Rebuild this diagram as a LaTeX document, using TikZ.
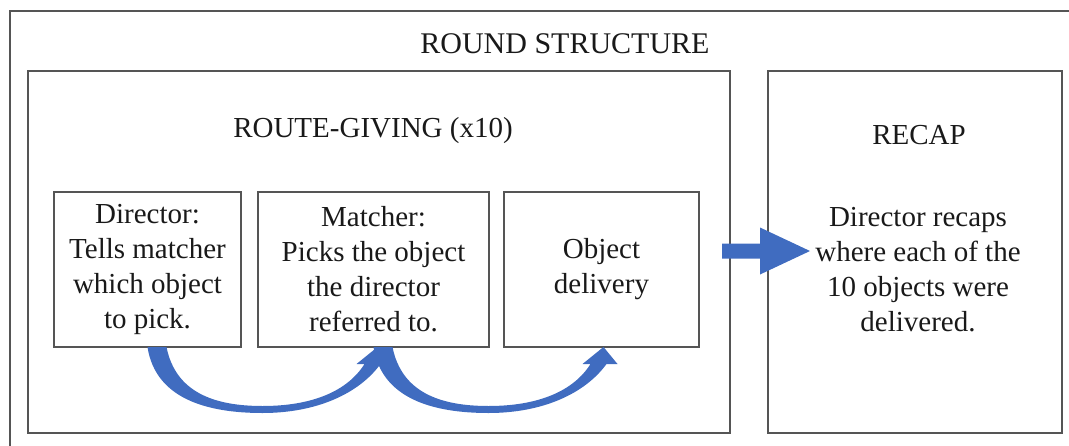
\documentclass[tikz,border=0pt]{standalone}
\usepackage{fontspec}
\setmainfont{Liberation Serif}
\usetikzlibrary{calc}

\definecolor{framegray}{RGB}{85,85,85}
\definecolor{textdark}{RGB}{25,25,25}
\definecolor{arrowblue}{RGB}{64,108,192}

\tikzset{
  frame/.style={draw=framegray, line width=2pt},
  boxnode/.style={frame, inner sep=0pt, outer sep=0pt, align=center,
    text=textdark, font=\fontsize{29}{35}\selectfont},
  label/.style={inner sep=0pt, text=textdark, align=center,
    font=\fontsize{29}{35}\selectfont},
}

% curved "up" arrow below two neighbouring boxes: tail at #1.south, head under #2
\newcommand{\bendarrow}[2]{%
  \fill[arrowblue, shift={(#1.south)}]
    (0,0) .. controls (8,52) and (60,66) .. (115,66)
          .. controls (170,66) and (212,46) .. (233,17)
    -- (244,17) -- (230,0) -- (209,17) -- (217,17)
          .. controls (200,44) and (165,59) .. (115,59)
          .. controls (66,59) and (28,45) .. (19,0)
    -- cycle;
}

\begin{document}
\begin{tikzpicture}[x=1pt, y=-1pt]
  \useasboundingbox (0,0) rectangle (1069,445);

  % outer frame, running off the right and bottom edges
  \draw[framegray, line width=2.4pt] (10,470) -- (10,11) -- (1100,11);

  \node[label, font=\fontsize{30}{35}\selectfont] (title) at (565,44) {ROUND STRUCTURE};

  % the two phases
  \node[boxnode, minimum width=702, minimum height=362] (route) at (379,252) {};
  \node[boxnode, minimum width=294, minimum height=362] (recap) at (915,252) {};

  \node[label] (routelabel) at (373,131) {ROUTE-GIVING (x10)};
  \node[label] (recaplabel) at (919,135) {RECAP};
  \node[label] (recaptext) at (918,270)
    {Director recaps\\where each of the\\10 objects were\\delivered.};

  % steps of one route-giving turn
  \node[boxnode, minimum width=187, minimum height=155] (director) at (147.5,269.5)
    {Director:\\Tells matcher\\which object\\to pick.};
  \node[boxnode, minimum width=231, minimum height=155] (matcher) at (373.5,269.5)
    {Matcher:\\Picks the object\\the director\\referred to.};
  \node[boxnode, minimum width=195, minimum height=155] (delivery) at (601.5,269.5)
    {Object\\delivery};

  % flow between the steps
  \bendarrow{director}{matcher}
  \bendarrow{matcher}{delivery}

  % block arrow from route-giving to recap
  \fill[arrowblue, shift={($(route.east)+(0,-1)$)}]
    (-8,-7.5) -- (30,-7.5) -- (30,-23.5) -- (80,0) -- (30,23.5)
    -- (30,7.5) -- (-8,7.5) -- cycle;
\end{tikzpicture}
\end{document}
